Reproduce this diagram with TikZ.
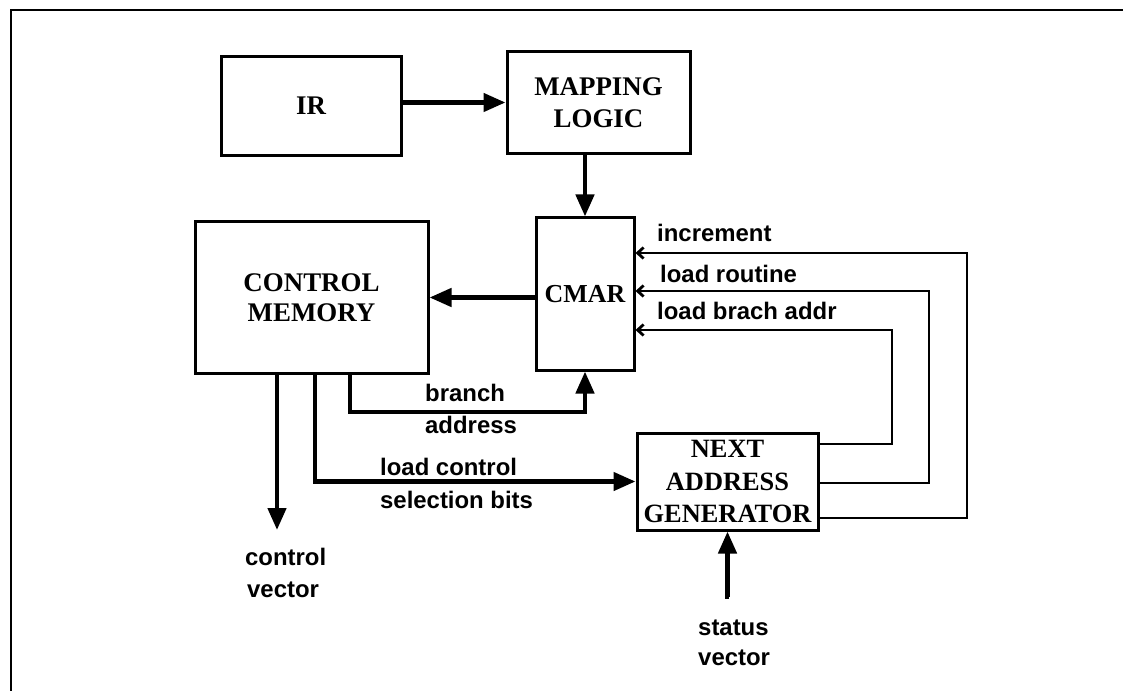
\documentclass[tikz,border=0pt]{standalone}
\usepackage{fontspec}
\setmainfont{Liberation Serif}
\newfontfamily\labfont{Liberation Sans}
\usetikzlibrary{arrows.meta}
\begin{document}
\begin{tikzpicture}[x=1bp,y=-1bp,
  box/.style={draw,line width=3bp,inner sep=0pt,align=center,font=\bfseries\fontsize{27}{31}\selectfont},
  lab/.style={inner sep=0pt,anchor=base west,font=\labfont\bfseries\fontsize{24}{32}\selectfont},
  thk/.style={line width=4.5bp,-{Triangle[length=22bp,width=18bp]}},
  fb/.style={line width=2.8bp,-{Straight Barb[length=6bp,width=11bp]}},
  frame/.style={line width=2.5bp}]
\useasboundingbox (0,0) rectangle (1123,691);
\fill[white] (0,0) rectangle (1123,691);
\draw[frame] (11,691) -- (11,10) -- (1123,10);

% blocks
\node[box,minimum width=180bp,minimum height=98bp] (IR) at (311,106) {IR};
\node[box,minimum width=183bp,minimum height=101bp,font=\bfseries\fontsize{27}{32}\selectfont] (ML) at (598.5,102.5) {MAPPING\\LOGIC};
\node[box,minimum width=98bp,minimum height=152bp,font=\bfseries\fontsize{26}{31}\selectfont] (CMAR) at (585,294) {CMAR};
\node[box,minimum width=233bp,minimum height=151bp,font=\bfseries\fontsize{27}{30}\selectfont] (CM) at (311.5,297.5) {CONTROL\\MEMORY};
\node[box,minimum width=181bp,minimum height=97bp,font=\bfseries\fontsize{26.5}{32.5}\selectfont] (NAG) at (727.5,481.5) {NEXT\\ADDRESS\\GENERATOR};

% helper coordinates
\coordinate (cvx) at (277,0);
\coordinate (lcx) at (315,0);
\coordinate (brx) at (350,0);
\coordinate (bry) at (0,412);
\coordinate (cvend) at (277,530);
\coordinate (c1) at (892,444);
\coordinate (c2) at (929,483);
\coordinate (c3) at (967,518);
\coordinate (t1) at (0,330);
\coordinate (t2) at (0,291);
\coordinate (t3) at (0,253);
\coordinate (sv) at (728,597);

% thick connectors
\draw[thk] (IR.east |- ML.west) -- (ML.west);
\draw[thk] (ML.south -| CMAR.north) -- (CMAR.north);
\draw[thk] (CMAR.west |- CM.east) -- (CM.east);
\draw[thk] (cvx |- CM.south) -- (cvend);
\draw[thk] (brx |- CM.south) -- (brx |- bry) -- (CMAR.south |- bry) -- (CMAR.south);
\draw[thk] (lcx |- CM.south) -- (lcx |- NAG.west) -- (NAG.west);
\draw[thk] (sv) -- (sv -| NAG.south) -- (NAG.south);

% feedback connectors
\draw[fb] (NAG.east |- c1) -- (c1) -- (c1 |- t1) -- (CMAR.east |- t1);
\draw[fb] (NAG.east |- c2) -- (c2) -- (c2 |- t2) -- (CMAR.east |- t2);
\draw[fb] (NAG.east |- c3) -- (c3) -- (c3 |- t3) -- (CMAR.east |- t3);

% labels
\node[lab] (linc) at (657,241) {increment};
\node[lab] (lrou) at (660,282) {load routine};
\node[lab] (lbra) at (657,319) {load brach addr};
\node[lab] (lbr1) at (425,401) {branch};
\node[lab] (lbr2) at (425,433) {address};
\node[lab] (llc1) at (380,475) {load control};
\node[lab] (llc2) at (380,508) {selection bits};
\node[lab] (lcv1) at (245,565) {control};
\node[lab] (lcv2) at (247,597) {vector};
\node[lab] (lsv1) at (698,635) {status};
\node[lab] (lsv2) at (698,665) {vector};
\end{tikzpicture}
\end{document}
